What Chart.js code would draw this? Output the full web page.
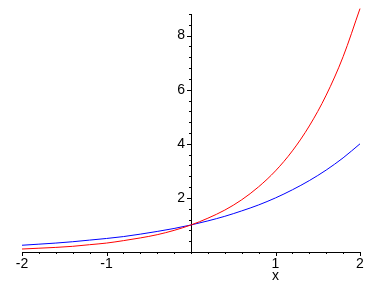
<!DOCTYPE html>
<html lang="en">

<head>
    <meta charset="UTF-8">
    <title>Document</title>
    <script src="https://cdn.jsdelivr.net/npm/chart.js@4.4.0/dist/chart.umd.min.js"></script>
    <style>
        body { margin: 0; background: #fff; }
    </style>
</head>

<body>
    <canvas id="chart" width="381" height="283"></canvas>

    <script type="text/javascript">

        // values
        const xValues = [-2, -1.8, -1.6, -1.4, -1.2, -1, -0.8, -0.6, -0.4, -0.2, 0,
            0.2, 0.4, 0.6, 0.8, 1, 1.2, 1.4, 1.6, 1.8, 2];
        const redValues = [0.11, 0.14, 0.17, 0.21, 0.27, 0.33, 0.42, 0.52, 0.64, 0.80, 1.0,
            1.25, 1.55, 1.93, 2.41, 3.0, 3.74, 4.66, 5.80, 7.22, 9.0];
        const blueValues = [0.25, 0.29, 0.33, 0.38, 0.44, 0.5, 0.57, 0.66, 0.76, 0.87, 1.0,
            1.15, 1.32, 1.52, 1.74, 2.0, 2.30, 2.64, 3.03, 3.48, 4.0];
        const xLabels = [-2, -1, 1, 2];
        const yLabels = [2, 4, 6, 8];
        const xTitle = "x";

        function toPoints(ys) {
            return xValues.map(function (x, i) { return { x: x, y: ys[i] }; });
        }

        function isLabel(list, v) {
            return list.some(function (l) { return Math.abs(l - v) < 1e-6; });
        }

        const font = { family: "'Liberation Sans', Arial, sans-serif", size: 14 };

        // tick marks (long at labels, short between), y labels and the x title
        const tickPlugin = {
            id: 'ticks',
            afterDraw: function (chart) {
                const ctx = chart.ctx;
                const xs = chart.scales.x, ys = chart.scales.y;
                const x0 = xs.getPixelForValue(0), y0 = ys.getPixelForValue(0);
                ctx.save();
                ctx.strokeStyle = '#000';
                ctx.lineWidth = 1;
                ctx.beginPath();
                xs.ticks.forEach(function (t) {
                    const px = Math.round(xs.getPixelForValue(t.value)) + 0.5;
                    const len = isLabel(xLabels, t.value) ? 4 : 2;
                    ctx.moveTo(px, y0);
                    ctx.lineTo(px, y0 + len);
                });
                ys.ticks.forEach(function (t) {
                    const py = Math.round(ys.getPixelForValue(t.value)) + 0.5;
                    const len = isLabel(yLabels, t.value) ? 4 : 2;
                    ctx.moveTo(x0, py);
                    ctx.lineTo(x0 - len, py);
                });
                ctx.stroke();
                ctx.fillStyle = '#000';
                ctx.font = '14px ' + font.family;
                ctx.textAlign = 'right';
                ctx.textBaseline = 'middle';
                yLabels.forEach(function (v) {
                    ctx.fillText(String(v), x0 - 6, ys.getPixelForValue(v));
                });
                ctx.textAlign = 'center';
                ctx.fillText(xTitle, xs.getPixelForValue(1), y0 + 24);
                ctx.restore();
            }
        };

        const ctx = document.getElementById('chart').getContext('2d');
        const myChart = new Chart(ctx, {
            type: 'line',
            data: {
                datasets: [{
                    data: toPoints(redValues),
                    borderColor: '#ff0000',
                    borderWidth: 1,
                    fill: false,
                    pointRadius: 0,
                    cubicInterpolationMode: 'monotone',
                    clip: false
                }, {
                    data: toPoints(blueValues),
                    borderColor: '#0000ff',
                    borderWidth: 1,
                    fill: false,
                    pointRadius: 0,
                    cubicInterpolationMode: 'monotone',
                    clip: false
                }]
            },
            options: {
                responsive: false,
                animation: false,
                layout: { padding: { left: 22, right: 21, top: 14, bottom: 31 } },
                plugins: { legend: { display: false }, tooltip: { enabled: false } },
                scales: {
                    x: {
                        type: 'linear',
                        position: { y: 0 },
                        min: -2,
                        max: 2,
                        grid: { display: false, drawTicks: false },
                        border: { display: true, color: '#000', width: 1 },
                        ticks: {
                            stepSize: 0.2,
                            color: '#000',
                            font: font,
                            padding: 4,
                            maxRotation: 0,
                            autoSkip: false,
                            callback: function (v) { return isLabel(xLabels, v) ? String(Math.round(v)) : ''; }
                        }
                    },
                    y: {
                        type: 'linear',
                        position: { x: 0 },
                        min: 0,
                        max: 8.8,
                        grid: { display: false, drawTicks: false },
                        border: { display: true, color: '#000', width: 1 },
                        ticks: {
                            display: false,
                            stepSize: 0.4,
                            autoSkip: false
                        }
                    }
                }
            },
            plugins: [tickPlugin]
        });

    </script>

</body>

</html>
